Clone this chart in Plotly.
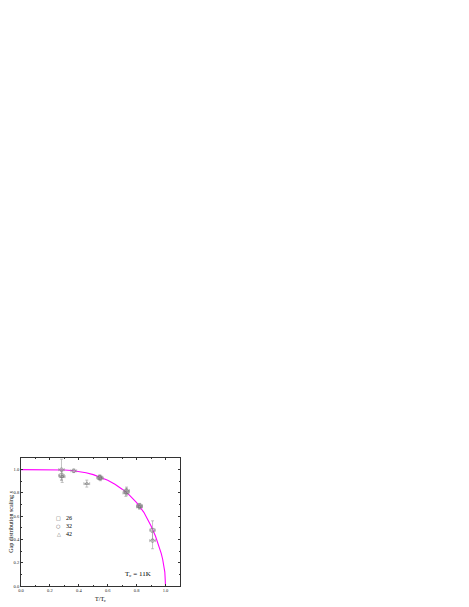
import plotly.graph_objects as go

# fitted gap curve
t_fit = [0.0, 0.1, 0.2, 0.25, 0.3, 0.35, 0.4, 0.45, 0.5, 0.55, 0.6, 0.65, 0.7, 0.75,
         0.8, 0.85, 0.9, 0.93, 0.95, 0.97, 0.98, 0.99, 0.995, 1.0]
s_fit = [1.0, 1.0, 1.0, 0.999, 0.997, 0.992, 0.985, 0.973, 0.957, 0.935, 0.908, 0.874,
         0.832, 0.781, 0.717, 0.633, 0.515, 0.43, 0.36, 0.28, 0.23, 0.165, 0.12, 0.0]

# system size 26
t_26 = [0.28, 0.545, 0.73, 0.82, 0.91]
s_26 = [0.95, 0.93, 0.81, 0.69, 0.48]
ds_26 = [0.04, 0.02, 0.03, 0.02, 0.08]
dt_26 = [0.02, 0.02, 0.02, 0.02, 0.02]

# system size 32
t_32 = [0.28, 0.365, 0.545, 0.73, 0.82, 0.91]
s_32 = [1.0, 0.99, 0.935, 0.82, 0.685, 0.39]
ds_32 = [0.09, 0.015, 0.02, 0.03, 0.02, 0.07]
dt_32 = [0.02, 0.02, 0.02, 0.02, 0.02, 0.02]

# system size 42
t_42 = [0.285, 0.455, 0.55, 0.725, 0.82]
s_42 = [0.94, 0.88, 0.925, 0.80, 0.68]
ds_42 = [0.05, 0.03, 0.02, 0.03, 0.02]
dt_42 = [0.02, 0.02, 0.02, 0.02, 0.02]

legend_labels = ["26", "32", "42"]
legend_glyphs = ["\u25a1", "\u25cb", "\u25b3"]

FONT = "Liberation Serif"
GREY = "#9a9a9a"

fig = go.Figure()

fig.add_trace(go.Scatter(x=t_fit, y=s_fit, mode="lines", line=dict(color="#ff00ff", width=1.1),
                         showlegend=False, hoverinfo="skip"))

for name, tt, ss, ds, dt, sym in [
    ("26", t_26, s_26, ds_26, dt_26, "square-open"),
    ("32", t_32, s_32, ds_32, dt_32, "circle-open"),
    ("42", t_42, s_42, ds_42, dt_42, "triangle-up-open"),
]:
    fig.add_trace(go.Scatter(
        x=tt, y=ss, mode="markers", name=name, showlegend=False,
        marker=dict(symbol=sym, size=3.5, color="#707070", line=dict(width=0.6)),
        error_y=dict(type="data", array=ds, color=GREY, thickness=0.6, width=1.5),
        error_x=dict(type="data", array=dt, color=GREY, thickness=0.6, width=1.5),
    ))

axis = dict(
    showgrid=False, zeroline=False, showline=True, linecolor="#333333", linewidth=0.8,
    mirror="ticks", ticks="inside", ticklen=2.5, tickwidth=0.6, tickcolor="#333333",
    tickfont=dict(family=FONT, size=4.5, color="#222222"), automargin=False,
    minor=dict(ticks="inside", ticklen=1.5, tickwidth=0.6, tickcolor="#333333", dtick=0.1),
)

fig.update_xaxes(axis, range=[0, 1.1], dtick=0.2, tickformat=".1f",
                 title=dict(text="T/T<sub>c</sub>", font=dict(family=FONT, size=6, color="black"),
                            standoff=4))
fig.update_yaxes(axis, range=[0, 1.1], dtick=0.2, tickformat=".1f",
                 title=dict(text="Gap distribution scaling <i>s</i>",
                            font=dict(family=FONT, size=6, color="black"), standoff=2))

# hand-drawn legend
for i, (lab, g) in enumerate(zip(legend_labels, legend_glyphs)):
    yy = 0.585 - 0.07 * i
    fig.add_annotation(x=0.26, y=yy, xref="x", yref="y", text=g, showarrow=False,
                       font=dict(family="DejaVu Sans", size=5, color="#555555"))
    fig.add_annotation(x=0.3, y=yy, xref="x", yref="y", text=lab, showarrow=False,
                       xanchor="left", font=dict(family=FONT, size=6, color="black"))

fig.add_annotation(x=0.81, y=0.10, xref="x", yref="y", text="T<sub>c</sub> = 11K",
                   showarrow=False, font=dict(family=FONT, size=7, color="black"))

# page body adds an 8px offset, so the figure is shifted back by that much
fig.update_layout(
    width=461, height=599,
    margin=dict(l=13, r=289, t=450, b=21),
    plot_bgcolor="white", paper_bgcolor="white",
    showlegend=False,
)

fig.write_html("out.html")
